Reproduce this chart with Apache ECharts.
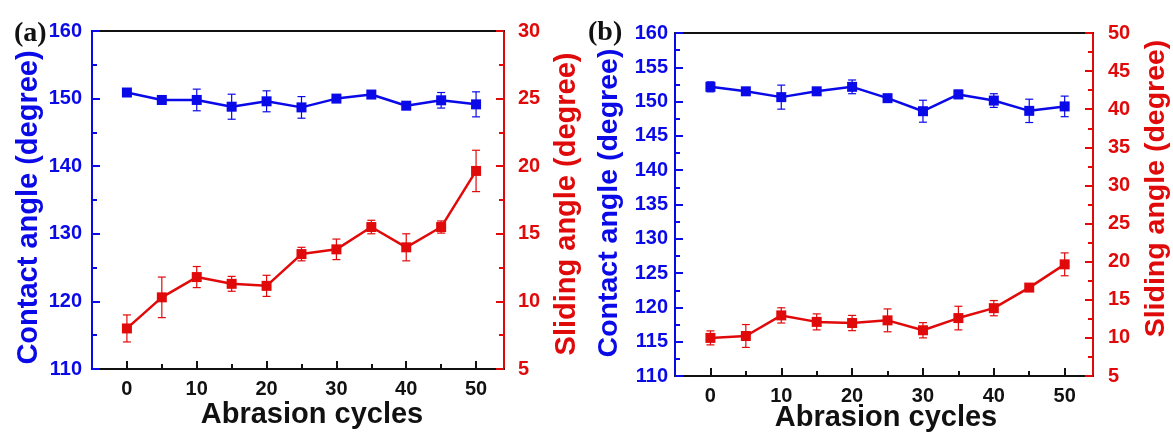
<!DOCTYPE html>
<html><head><meta charset="utf-8">
<script src="https://cdn.jsdelivr.net/npm/echarts@6/dist/echarts.min.js"></script>
<style>html,body{margin:0;padding:0;background:#fff}#c{width:1173px;height:432px}</style>
</head><body><div id="c"></div>
<script>
const cycles = [0, 5, 10, 15, 20, 25, 30, 35, 40, 45, 50];
const xTicks = [0, 10, 20, 30, 40, 50];
const xMinorTicks = [5, 15, 25, 35, 45];
// Panel (a)
const contactA = [150.9, 149.8, 149.8, 148.8, 149.6, 148.7, 150.0, 150.6, 148.95, 149.75, 149.15];
const contactAErr = [0.3, 0.6, 1.6, 1.85, 1.55, 1.6, 0.3, 0.3, 0.3, 1.15, 1.85];
const slidingA = [8.0, 10.3, 11.8, 11.3, 11.15, 13.5, 13.85, 15.5, 14.0, 15.5, 19.65];
const slidingAErr = [1.0, 1.5, 0.78, 0.55, 0.78, 0.5, 0.76, 0.5, 1.0, 0.45, 1.53];
// Panel (b)
const contactB = [152.15, 151.5, 150.65, 151.5, 152.15, 150.5, 148.6, 151.05, 150.15, 148.65, 149.3];
const contactBErr = [0.73, 0.3, 1.75, 0.3, 1.0, 0.3, 1.6, 0.6, 1.0, 1.7, 1.5];
const slidingB = [10.0, 10.25, 12.95, 12.1, 11.95, 12.3, 11.0, 12.6, 13.9, 16.6, 19.65];
const slidingBErr = [0.92, 1.5, 1.0, 1.05, 1.0, 1.5, 1.0, 1.55, 1.0, 0.4, 1.5];

const BLUE = '#0a0ae8', RED = '#e00a0a', BLACK = '#111';
const FONT = '"Liberation Sans", Arial, sans-serif';

function pairs(v) { return cycles.map((c, i) => [c, v[i]]); }
function triples(v, e) { return cycles.map((c, i) => [c, v[i], e[i]]); }

function errSeries(xi, yi, v, e, color) {
  return {
    type: 'custom', xAxisIndex: xi, yAxisIndex: yi, z: 1,
    data: triples(v, e),
    encode: { x: 0, y: 1 },
    renderItem: function (params, api) {
      const x = api.value(0), y = api.value(1), er = api.value(2);
      const lo = api.coord([x, y - er]), hi = api.coord([x, y + er]);
      const w = 4;
      const st = { stroke: color, lineWidth: 1.2 };
      return { type: 'group', children: [
        { type: 'line', shape: { x1: lo[0], y1: lo[1], x2: hi[0], y2: hi[1] }, style: st },
        { type: 'line', shape: { x1: lo[0] - w, y1: lo[1], x2: lo[0] + w, y2: lo[1] }, style: st },
        { type: 'line', shape: { x1: hi[0] - w, y1: hi[1], x2: hi[0] + w, y2: hi[1] }, style: st }
      ]};
    }
  };
}
function lineSeries(xi, yi, v, color) {
  return {
    type: 'line', xAxisIndex: xi, yAxisIndex: yi, z: 3,
    data: pairs(v), symbol: 'rect', symbolSize: 10,
    lineStyle: { color: color, width: 2.5 }, itemStyle: { color: color },
    animation: false
  };
}

function xAxes(grid, namePad, nameGap) {
  return [
    { type: 'value', gridIndex: grid, position: 'bottom', min: -5, max: 54,
      name: 'Abrasion cycles', nameLocation: 'middle', nameGap: nameGap, nameMoveOverlap: false,
      nameTextStyle: { fontFamily: FONT, fontWeight: 'bold', fontSize: 29, color: BLACK, padding: namePad },
      axisLine: { onZero: false, lineStyle: { color: BLACK, width: 2 } },
      axisTick: { inside: true, length: 8, customValues: xTicks, lineStyle: { color: BLACK, width: 2 } },
      axisLabel: { customValues: xTicks, margin: 10, fontFamily: FONT, fontWeight: 'bold', fontSize: 20, color: BLACK },
      splitLine: { show: false } },
    { type: 'value', gridIndex: grid, position: 'bottom', min: -5, max: 54,
      axisLine: { show: false, onZero: false },
      axisTick: { inside: true, length: 5, customValues: xMinorTicks, lineStyle: { color: BLACK, width: 2 } },
      axisLabel: { show: false }, splitLine: { show: false } },
    { type: 'value', gridIndex: grid, position: 'top', min: -5, max: 54,
      axisLine: { onZero: false, lineStyle: { color: BLACK, width: 2 } },
      axisTick: { show: false }, axisLabel: { show: false }, splitLine: { show: false } }
  ];
}
function yAxis(grid, pos, min, max, interval, color, name, margin, gap, pad, fs) {
  return { type: 'value', gridIndex: grid, position: pos, min: min, max: max, interval: interval,
    name: name, nameLocation: 'middle', nameGap: gap, nameRotate: 90,
    nameTextStyle: { fontFamily: FONT, fontWeight: 'bold', fontSize: fs, color: color, padding: pad },
    axisLine: { show: true, onZero: false, lineStyle: { color: color, width: 2 } },
    axisTick: { show: true, inside: true, length: 8, lineStyle: { color: color, width: 2 } },
    minorTick: { show: true, splitNumber: 2, length: 5, lineStyle: { color: color, width: 2 } },
    axisLabel: { margin: margin, fontFamily: FONT, fontWeight: 'bold', fontSize: 20, color: color },
    splitLine: { show: false } };
}

const chart = echarts.init(document.getElementById('c'));
chart.setOption({
  animation: false,
  backgroundColor: '#fff',
  title: [
    { text: '(a)', left: 9, top: 15, textStyle: { fontFamily: '"Liberation Serif", "Times New Roman", serif', fontWeight: 'bold', fontSize: 28, color: BLACK } },
    { text: '(b)', left: 583, top: 14, textStyle: { fontFamily: '"Liberation Serif", "Times New Roman", serif', fontWeight: 'bold', fontSize: 28, color: BLACK } }
  ],
  grid: [
    { left: 92, top: 31, width: 412, height: 338, outerBoundsMode: 'none', containLabel: false },
    { left: 675, top: 33, width: 418, height: 343, outerBoundsMode: 'none', containLabel: false }
  ],
  xAxis: [...xAxes(0, [0, 0, 0, 28], 31), ...xAxes(1, [0, 0, 0, 4], 27)],
  yAxis: [
    yAxis(0, 'left', 110, 160, 10, BLUE, 'Contact angle (degree)', 10, 49, [0, 15, 0, 0], 29),
    yAxis(0, 'right', 5, 30, 5, RED, 'Sliding angle (degree)', 14, 48, [0, 8, 0, 0], 29),
    yAxis(1, 'left', 110, 160, 5, BLUE, 'Contact angle (degree)', 7, 51, [0, 0, 0, 3], 28.5),
    yAxis(1, 'right', 5, 50, 5, RED, 'Sliding angle (degree)', 15, 49, [0, 0, 0, 32], 28.5)
  ],
  series: [
    errSeries(0, 0, contactA, contactAErr, BLUE),
    lineSeries(0, 0, contactA, BLUE),
    errSeries(0, 1, slidingA, slidingAErr, RED),
    lineSeries(0, 1, slidingA, RED),
    errSeries(3, 2, contactB, contactBErr, BLUE),
    lineSeries(3, 2, contactB, BLUE),
    errSeries(3, 3, slidingB, slidingBErr, RED),
    lineSeries(3, 3, slidingB, RED)
  ]
});
</script></body></html>
